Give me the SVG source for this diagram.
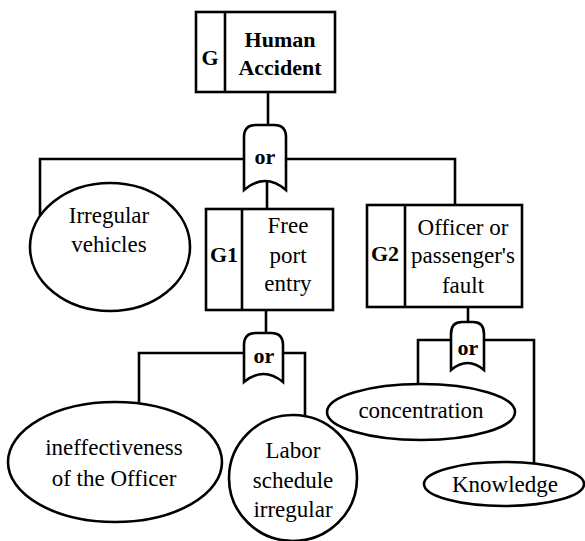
<svg xmlns="http://www.w3.org/2000/svg" width="585" height="541" viewBox="0 0 585 541">
<style>
.s{fill:#fff;stroke:#000;stroke-width:2.6}
.c{fill:none;stroke:#000;stroke-width:2.6}
.t{font-family:"Liberation Serif","Times New Roman",serif;font-size:23px;text-anchor:middle;fill:#000}
.b{font-weight:bold;font-size:22px}
</style>
<rect width="585" height="541" fill="#fff"/>
<g id="connectors">
<path class="c" d="M268,92V126"/>
<path class="c" d="M244,159H40V220"/>
<path class="c" d="M286,159H455V206"/>
<path class="c" d="M267,182V210"/>
<path class="c" d="M266,310V334"/>
<path class="c" d="M244,353H139V405"/>
<path class="c" d="M283,353H305V420"/>
<path class="c" d="M468,307V323"/>
<path class="c" d="M451,340H418V388"/>
<path class="c" d="M484,340H534V465"/>
</g>
<g id="G">
<rect class="s" x="196" y="12" width="139" height="80"/>
<line class="c" x1="225" y1="12" x2="225" y2="92"/>
<text class="t b" x="210" y="65">G</text>
<text class="t b" x="280" y="47">Human</text>
<text class="t b" x="280" y="75">Accident</text>
</g>
<g id="or1">
<path class="s" d="M244,190V137Q244,125 256,125H274Q286,125 286,137V190Q265,172 244,190Z"/>
<text class="t b" x="265" y="164">or</text>
</g>
<g id="irregular-vehicles">
<ellipse class="s" cx="110" cy="247" rx="80" ry="64"/>
<text class="t" x="109" y="223">Irregular</text>
<text class="t" x="109" y="252">vehicles</text>
</g>
<g id="G1">
<rect class="s" x="206" y="209" width="127" height="101"/>
<line class="c" x1="242" y1="209" x2="242" y2="310"/>
<text class="t b" x="224" y="262">G1</text>
<text class="t" x="288" y="233">Free</text>
<text class="t" x="288" y="263">port</text>
<text class="t" x="288" y="291">entry</text>
</g>
<g id="G2">
<rect class="s" x="367" y="205" width="155" height="102"/>
<line class="c" x1="405" y1="205" x2="405" y2="307"/>
<text class="t b" x="385" y="261">G2</text>
<text class="t" x="463" y="235">Officer or</text>
<text class="t" x="463" y="263">passenger's</text>
<text class="t" x="463" y="293">fault</text>
</g>
<g id="or2">
<path class="s" d="M244,382V345Q244,333 256,333H271Q283,333 283,345V382Q263.5,366 244,382Z"/>
<text class="t b" x="264" y="363">or</text>
</g>
<g id="or3">
<path class="s" d="M451,370V334Q451,322 462,322H473Q484,322 484,334V370Q467.5,356 451,370Z"/>
<text class="t b" x="468" y="355">or</text>
</g>
<g id="ineffectiveness">
<ellipse class="s" cx="115" cy="462" rx="107" ry="60"/>
<text class="t" x="114" y="455">ineffectiveness</text>
<text class="t" x="114" y="486">of the Officer</text>
</g>
<g id="labor">
<ellipse class="s" cx="293" cy="478" rx="64" ry="63"/>
<text class="t" x="293" y="458">Labor</text>
<text class="t" x="293" y="488">schedule</text>
<text class="t" x="293" y="517">irregular</text>
</g>
<g id="concentration">
<ellipse class="s" cx="421" cy="412" rx="94" ry="28"/>
<text class="t" x="421" y="418">concentration</text>
</g>
<g id="knowledge">
<ellipse class="s" cx="504" cy="484" rx="80" ry="22"/>
<text class="t" x="505" y="492">Knowledge</text>
</g>
</svg>
